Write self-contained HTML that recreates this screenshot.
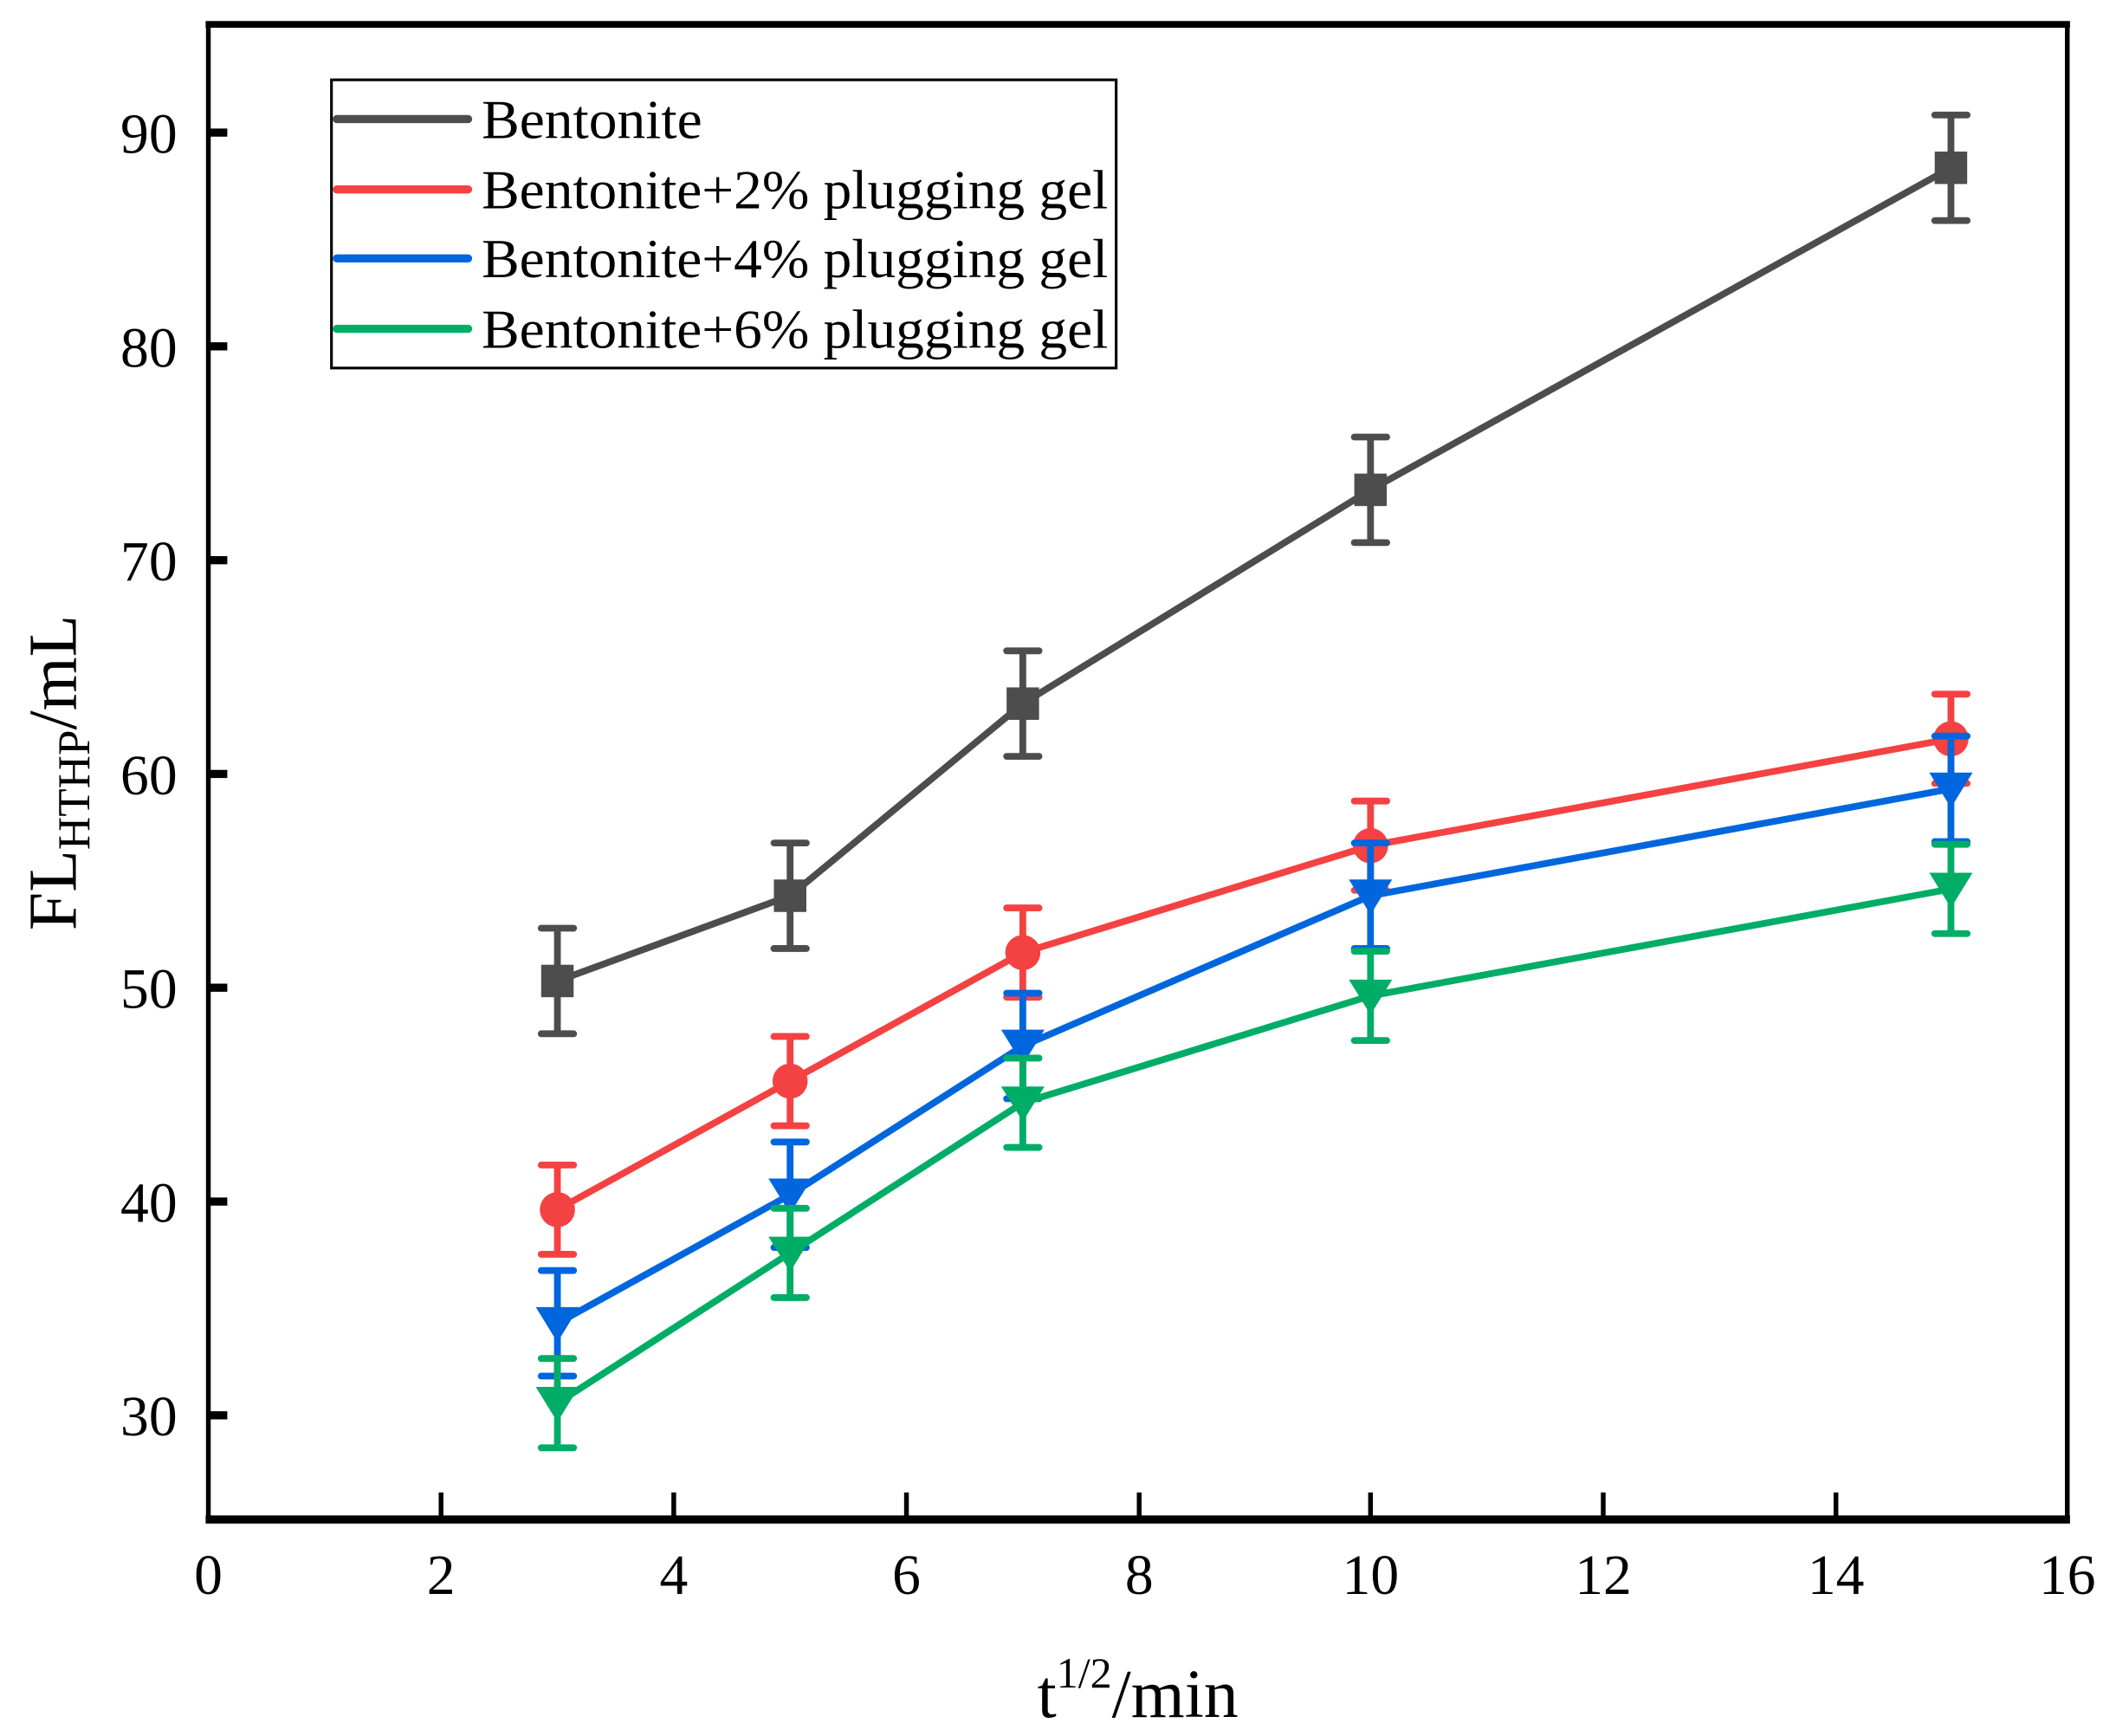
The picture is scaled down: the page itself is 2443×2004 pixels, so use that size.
<!DOCTYPE html>
<html><head><meta charset="utf-8"><style>html,body{margin:0;padding:0;background:#fff}svg{display:block}</style></head>
<body>
<svg width="2443" height="2004" viewBox="0 0 1564 1283" preserveAspectRatio="none" xmlns="http://www.w3.org/2000/svg" font-family="Liberation Serif, serif">
<rect width="1564" height="1283" fill="#fff"/>
<defs>
<g id="sq"><rect x="-12" y="-12" width="24" height="24"/></g>
<g id="ci"><circle r="13"/></g>
<g id="tr"><polygon points="-16,-12 16,-12 0,14"/></g>
</defs>
<rect x="154" y="18" width="1374" height="1104" fill="none" stroke="#000" stroke-width="3.5"/>
<line x1="152" y1="1123" x2="1530" y2="1123" stroke="#000" stroke-width="6"/>
<line x1="152" y1="18" x2="1530" y2="18" stroke="#000" stroke-width="5"/>
<g stroke="#000" stroke-width="6">
<line x1="154" y1="98" x2="168" y2="98"/><line x1="154" y1="256" x2="168" y2="256"/><line x1="154" y1="414" x2="168" y2="414"/><line x1="154" y1="572" x2="168" y2="572"/><line x1="154" y1="730" x2="168" y2="730"/><line x1="154" y1="888" x2="168" y2="888"/><line x1="154" y1="1046" x2="168" y2="1046"/>
</g>
<g stroke="#000" stroke-width="3.5">
<line x1="326" y1="1122" x2="326" y2="1103"/><line x1="498" y1="1122" x2="498" y2="1103"/><line x1="670" y1="1122" x2="670" y2="1103"/><line x1="842" y1="1122" x2="842" y2="1103"/><line x1="1013" y1="1122" x2="1013" y2="1103"/><line x1="1185" y1="1122" x2="1185" y2="1103"/><line x1="1357" y1="1122" x2="1357" y2="1103"/>
</g>
<g font-size="42" text-anchor="end">
<text x="131" y="113">90</text><text x="131" y="271">80</text><text x="131" y="429">70</text><text x="131" y="587">60</text><text x="131" y="745">50</text><text x="131" y="903">40</text><text x="131" y="1061">30</text>
</g>
<g font-size="42" text-anchor="middle">
<text x="154" y="1178">0</text><text x="326" y="1178">2</text><text x="498" y="1178">4</text><text x="670" y="1178">6</text><text x="842" y="1178">8</text><text x="1013" y="1178">10</text><text x="1185" y="1178">12</text><text x="1357" y="1178">14</text><text x="1528" y="1178">16</text>
</g>
<text x="841" y="1269" font-size="51" text-anchor="middle">t<tspan font-size="32" dy="-22">1/2</tspan><tspan dy="22">/min</tspan></text>
<text transform="translate(56,571) rotate(-90)" font-size="51" text-anchor="middle">FL<tspan font-size="34" dy="10">HTHP</tspan><tspan dy="-10">/mL</tspan></text>

<g stroke="#4d4d4d" fill="#4d4d4d">
<polyline fill="none" stroke-width="5" points="412,725 584,662 756,520 1013,362 1442,124"/>
<g stroke-width="5" stroke-linecap="round">
<path d="M412,686V764M400,686H424M400,764H424"/>
<path d="M584,623V701M572,623H596M572,701H596"/>
<path d="M756,481V559M744,481H768M744,559H768"/>
<path d="M1013,323V401M1001,323H1025M1001,401H1025"/>
<path d="M1442,85V163M1430,85H1454M1430,163H1454"/>
</g>
<g stroke="none"><use href="#sq" x="412" y="725"/><use href="#sq" x="584" y="662"/><use href="#sq" x="756" y="520"/><use href="#sq" x="1013" y="362"/><use href="#sq" x="1442" y="124"/></g>
</g>
<g stroke="#f44242" fill="#f44242">
<polyline fill="none" stroke-width="5" points="412,894 584,799 756,704 1013,625 1442,546"/>
<g stroke-width="5" stroke-linecap="round">
<path d="M412,861V927M400,861H424M400,927H424"/>
<path d="M584,766V832M572,766H596M572,832H596"/>
<path d="M756,671V737M744,671H768M744,737H768"/>
<path d="M1013,592V658M1001,592H1025M1001,658H1025"/>
<path d="M1442,513V579M1430,513H1454M1430,579H1454"/>
</g>
<g stroke="none"><use href="#ci" x="412" y="894"/><use href="#ci" x="584" y="799"/><use href="#ci" x="756" y="704"/><use href="#ci" x="1013" y="625"/><use href="#ci" x="1442" y="546"/></g>
</g>
<g stroke="#0066dd" fill="#0066dd">
<polyline fill="none" stroke-width="5" points="412,978 584,883 756,773 1013,662 1442,583"/>
<g stroke-width="5" stroke-linecap="round">
<path d="M412,939V1017M400,939H424M400,1017H424"/>
<path d="M584,844V922M572,844H596M572,922H596"/>
<path d="M756,734V812M744,734H768M744,812H768"/>
<path d="M1013,623V701M1001,623H1025M1001,701H1025"/>
<path d="M1442,544V622M1430,544H1454M1430,622H1454"/>
</g>
<g stroke="none"><use href="#tr" x="412" y="978"/><use href="#tr" x="584" y="883"/><use href="#tr" x="756" y="773"/><use href="#tr" x="1013" y="662"/><use href="#tr" x="1442" y="583"/></g>
</g>
<g stroke="#00ad66" fill="#00ad66">
<polyline fill="none" stroke-width="5" points="412,1037 584,926 756,815 1013,736 1442,657"/>
<g stroke-width="5" stroke-linecap="round">
<path d="M412,1004V1070M400,1004H424M400,1070H424"/>
<path d="M584,893V959M572,893H596M572,959H596"/>
<path d="M756,782V848M744,782H768M744,848H768"/>
<path d="M1013,703V769M1001,703H1025M1001,769H1025"/>
<path d="M1442,624V690M1430,624H1454M1430,690H1454"/>
</g>
<g stroke="none"><use href="#tr" x="412" y="1037"/><use href="#tr" x="584" y="926"/><use href="#tr" x="756" y="815"/><use href="#tr" x="1013" y="736"/><use href="#tr" x="1442" y="657"/></g>
</g>

<rect x="245" y="59" width="580" height="213" fill="#fff" stroke="#000" stroke-width="2"/>
<g stroke-width="6" stroke-linecap="round">
<line x1="249" y1="88" x2="346" y2="88" stroke="#4d4d4d"/>
<line x1="249" y1="140" x2="346" y2="140" stroke="#f44242"/>
<line x1="249" y1="191" x2="346" y2="191" stroke="#0066dd"/>
<line x1="249" y1="243" x2="346" y2="243" stroke="#00ad66"/>
</g>
<g font-size="41">
<text x="356" y="102" textLength="163" lengthAdjust="spacingAndGlyphs">Bentonite</text>
<text x="356" y="154" textLength="463" lengthAdjust="spacingAndGlyphs">Bentonite+2% plugging gel</text>
<text x="356" y="205" textLength="463" lengthAdjust="spacingAndGlyphs">Bentonite+4% plugging gel</text>
<text x="356" y="257" textLength="463" lengthAdjust="spacingAndGlyphs">Bentonite+6% plugging gel</text>
</g>
</svg>
</body></html>
